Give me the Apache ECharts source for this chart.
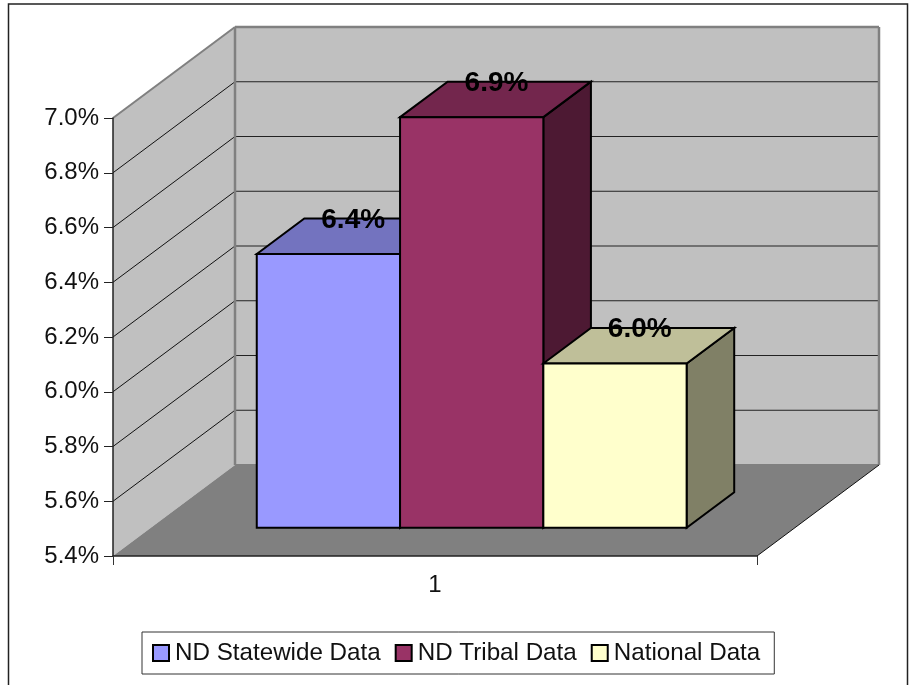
<!DOCTYPE html>
<html>
<head>
<meta charset="utf-8">
<style>html,body{margin:0;padding:0;background:#fff;overflow:hidden}#chart{width:909px;height:685px}</style>
<script src="https://cdn.jsdelivr.net/npm/echarts@6/dist/echarts.min.js"></script>
</head>
<body>
<div id="chart"></div>
<script>
// Category, series and axis values
const categories = ['1'];
const statewideValues = [6.4];
const tribalValues = [6.9];
const nationalValues = [6.0];
const yTicks = [5.4, 5.6, 5.8, 6.0, 6.2, 6.4, 6.6, 6.8, 7.0];

// Oblique projection: depth 0 is the front of the floor, depth 1 the back wall
const DEPTH_X = 122, DEPTH_Y = -91;
const BAR_DEPTH_START = 0.31, BAR_DEPTH_END = 0.70;
const BAR_MARGIN = 0.1645, BAR_WIDTH = 0.2225;
const FONT = '"Liberation Sans", Arial, sans-serif';

function project(pt, depth) {
  return [pt[0] + depth * DEPTH_X, pt[1] + depth * DEPTH_Y];
}

function renderWalls(params, api) {
  const yMin = yTicks[0], yMax = yTicks[yTicks.length - 1];
  const band = api.size([1, 0])[0];
  const centre = api.coord([0, yMin])[0];
  const xL = centre - band / 2, xR = centre + band / 2;
  const fl = api.coord([0, yMin])[1], top = api.coord([0, yMax])[1];
  const poly = (points, fill, stroke, lw) => ({
    type: 'polygon', shape: { points },
    style: { fill, stroke: stroke || 'none', lineWidth: lw || 0 }
  });
  const line = (a, b, stroke, lw) => ({
    type: 'line', shape: { x1: a[0], y1: a[1], x2: b[0], y2: b[1] },
    style: { stroke, lineWidth: lw }
  });
  const children = [
    poly([[xL, top], project([xL, top], 1), project([xL, fl], 1), [xL, fl]], '#C0C0C0'),
    poly([project([xL, top], 1), project([xR, top], 1), project([xR, fl], 1), project([xL, fl], 1)], '#C0C0C0'),
    poly([[xL, fl], project([xL, fl], 1), project([xR, fl], 1), [xR, fl]], '#808080')
  ];
  yTicks.slice(1, -1).forEach(v => {
    const y = api.coord([0, v])[1];
    children.push(line([xL, y], project([xL, y], 1), '#111', 1));
    children.push(line(project([xL, y], 1), project([xR, y], 1), '#222', 1));
  });
  children.push(line([xL, top], project([xL, top], 1), '#808080', 2));
  children.push(line(project([xL, top], 1), project([xR, top], 1), '#808080', 2.5));
  children.push(line(project([xL, top], 1), project([xL, fl], 1), '#808080', 2.5));
  children.push(line(project([xR, top], 1), project([xR, fl], 1), '#808080', 2.5));
  children.push(line(project([xL, fl], 1), project([xR, fl], 1), '#808080', 2));
  children.push(line([xR, fl], project([xR, fl], 1), '#111', 1));
  return { type: 'group', children };
}

function barRenderer(slot, colors) {
  return function (params, api) {
    const v = api.value(1);
    const band = api.size([1, 0])[0];
    const xL = api.coord([0, v])[0] - band / 2;
    const x0 = xL + band * (BAR_MARGIN + slot * BAR_WIDTH);
    const x1 = x0 + band * BAR_WIDTH;
    const yTop = api.coord([0, v])[1];
    const yBase = api.coord([0, yTicks[0]])[1];
    const a = BAR_DEPTH_START, b = BAR_DEPTH_END;
    const edge = { stroke: '#000', lineWidth: 2, lineJoin: 'miter' };
    const face = (points, fill) => ({
      type: 'polygon', shape: { points }, style: Object.assign({ fill }, edge)
    });
    const labelPos = project([(x0 + x1) / 2, yTop], (a + b) / 2);
    return {
      type: 'group',
      children: [
        face([project([x1, yTop], a), project([x1, yTop], b), project([x1, yBase], b), project([x1, yBase], a)], colors.side),
        face([project([x0, yTop], a), project([x0, yTop], b), project([x1, yTop], b), project([x1, yTop], a)], colors.top),
        face([project([x0, yTop], a), project([x1, yTop], a), project([x1, yBase], a), project([x0, yBase], a)], colors.front),
        {
          type: 'text', z2: 50,
          style: {
            x: labelPos[0] + 1, y: project([0, yTop], b)[1] + 1.5,
            text: v.toFixed(1) + '%',
            font: 'bold 28px ' + FONT, fill: '#000',
            align: 'center', verticalAlign: 'middle'
          }
        }
      ]
    };
  };
}

function barSeries(name, values, slot, colors) {
  return {
    name, type: 'custom', coordinateSystem: 'cartesian2d', clip: false, z: 2 + slot,
    itemStyle: { color: colors.front },
    encode: { x: 0, y: 1 },
    data: values.map((v, i) => [i, v]),
    renderItem: barRenderer(slot, colors)
  };
}

const chart = echarts.init(document.getElementById('chart'), null, { renderer: 'canvas' });
chart.setOption({
  animation: false,
  backgroundColor: '#fff',
  textStyle: { fontFamily: FONT },
  grid: { left: 113, top: 118, width: 644, height: 438 },
  graphic: [{
    type: 'rect', z: 0, silent: true,
    shape: { x: 8.5, y: 4, width: 899, height: 720 },
    style: { fill: 'none', stroke: '#222', lineWidth: 1.5 }
  }],
  xAxis: {
    type: 'category', data: categories, z: 6,
    axisLine: { lineStyle: { color: '#222', width: 1.5 } },
    axisTick: { show: true, length: 9, alignWithLabel: false, lineStyle: { color: '#333', width: 1 } },
    axisLabel: { color: '#111', fontSize: 24, fontFamily: FONT, margin: 17 },
    splitLine: { show: false }
  },
  yAxis: {
    type: 'value', min: 5.4, max: 7.0, interval: 0.2, z: 6,
    axisLine: { show: true, lineStyle: { color: '#222', width: 1.5 } },
    axisTick: { show: true, length: 9, lineStyle: { color: '#222', width: 1 } },
    axisLabel: {
      color: '#111', fontSize: 24, fontFamily: FONT, margin: 14,
      formatter: v => v.toFixed(1) + '%'
    },
    splitLine: { show: false }
  },
  legend: {
    left: 142, top: 632, itemGap: 14, itemWidth: 16, itemHeight: 16, padding: [9, 14, 9, 10],
    backgroundColor: '#fff', borderColor: '#333', borderWidth: 1,
    data: ['ND Statewide Data', 'ND Tribal Data', 'National Data'],
    icon: 'rect',
    itemStyle: { borderColor: '#000', borderWidth: 2 },
    textStyle: { fontSize: 24.2, fontFamily: FONT, color: '#111', padding: [0, 0, 4, 1] }
  },
  series: [
    {
      name: 'walls', type: 'custom', coordinateSystem: 'cartesian2d', clip: false, z: 1,
      silent: true, encode: { x: 0, y: 1 },
      data: [[0, yTicks[0]]],
      renderItem: renderWalls
    },
    barSeries('ND Statewide Data', statewideValues, 0, { front: '#9999FF', top: '#7373BF', side: '#4D4D80' }),
    barSeries('ND Tribal Data', tribalValues, 1, { front: '#993366', top: '#73264D', side: '#4D1933' }),
    barSeries('National Data', nationalValues, 2, { front: '#FFFFCC', top: '#BFBF99', side: '#808066' })
  ]
});
</script>
</body>
</html>
